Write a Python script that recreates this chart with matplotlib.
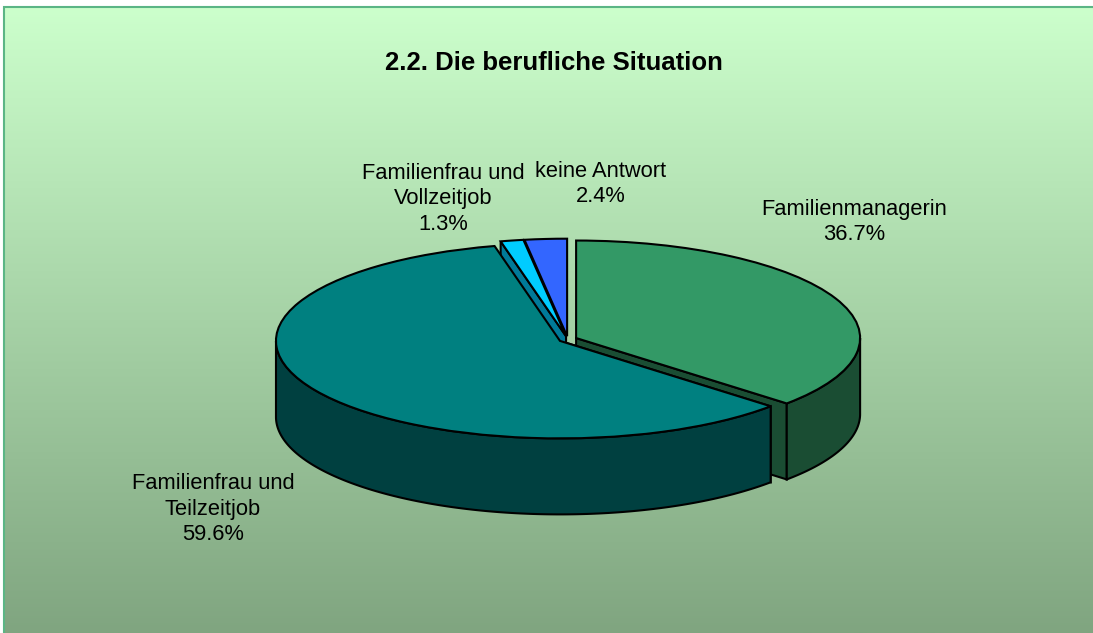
import numpy as np
import matplotlib
matplotlib.use('Agg')
import matplotlib.pyplot as plt

plt.rcParams['font.family'] = ['Liberation Sans', 'DejaVu Sans']

#values in percent, clockwise from the top
categories = ['Familienmanagerin', 'Familienfrau und\nTeilzeitjob', 'Familienfrau und\nVollzeitjob', 'keine Antwort']
values = [36.7, 59.6, 1.3, 2.4]
top_colors = ['#339966', '#008080', '#00CCFF', '#3366FF']
wall_colors = ['#1A4D33', '#004040', '#007A99', '#1A3380']
title = '2.2. Die berufliche Situation'

#pixel positions of the labels
label_x = [854, 213, 443, 601]
label_y = [222, 509, 199, 184]

W, H = 1093, 633
center_x, center_y = 567.8, 339.3
radius_x, radius_y = 284.0, 97.5
depth = 76.0 / radius_y

fig = plt.figure(figsize=(W / 100, H / 100), dpi=100)

#background, works in pixels
bg = fig.add_axes([0, 0, 1, 1])
bg.set_xlim(0, W)
bg.set_ylim(H, 0)
bg.axis('off')
gradient = np.linspace(0, 1, 256).reshape(-1, 1)
cmap = matplotlib.colors.LinearSegmentedColormap.from_list('bg', ['#CCFFCC', '#80A580'])
bg.imshow(gradient, extent=(4, W, H, 7), cmap=cmap, aspect='auto', zorder=0)
bg.set_xlim(0, W)
bg.set_ylim(H, 0)
bg.plot([4, 4, W], [H, 7, 7], color='#5BB585', lw=1.5, zorder=1, solid_joinstyle='miter')

#pie squashed to an ellipse by the axis limits
ax = fig.add_axes([0, 0, 1, 1])
explode = [0.032] * len(values)
wedges, _ = ax.pie(values, colors=top_colors, explode=explode, startangle=90, counterclock=False,
                   wedgeprops={'edgecolor': 'black', 'linewidth': 1.5, 'zorder': 3})
ax.set_aspect('auto')
ax.patch.set_visible(False)


def draw_wall(xs, ys, color, z):
    xs = np.concatenate([xs, xs[::-1]])
    ys = np.concatenate([ys, ys[::-1] - depth])
    ax.fill(xs, ys, facecolor=color, edgecolor='black', linewidth=1.5, zorder=z)


#walls go under the top faces, back ones first
for i in [2, 0, 1]:
    w = wedges[i]
    cx, cy = w.center
    #the side cut that faces the viewer
    cut = np.radians(w.theta1 if i == 0 else w.theta2)
    draw_wall(np.array([cx, cx + np.cos(cut)]), np.array([cy, cy + np.sin(cut)]), wall_colors[i], 1 + i * 0.1)
    #the curved front
    t1, t2 = max(w.theta1, -180), min(w.theta2, 0)
    if t1 < t2:
        t = np.radians(np.linspace(t1, t2, 200))
        draw_wall(cx + np.cos(t), cy + np.sin(t), wall_colors[i], 1.5 + i * 0.1)

ax.set_xlim((0 - center_x) / radius_x, (W - center_x) / radius_x)
ax.set_ylim((center_y - H) / radius_y, center_y / radius_y)

#texts on top
bg.set_zorder(0)
ax.set_zorder(1)
for name, v, x, y in zip(categories, values, label_x, label_y):
    ax.annotate(name + '\n' + f'{v:.1f}%', xy=(x / W, 1 - y / H), xycoords='figure fraction',
                ha='center', va='center', fontsize=15.75, linespacing=1.3, color='black', zorder=5)
ax.annotate(title, xy=(554 / W, 1 - 63 / H), xycoords='figure fraction', ha='center', va='center',
            fontsize=18.5, fontweight='bold', color='black', zorder=5)

fig.savefig('out.png', dpi=100)
